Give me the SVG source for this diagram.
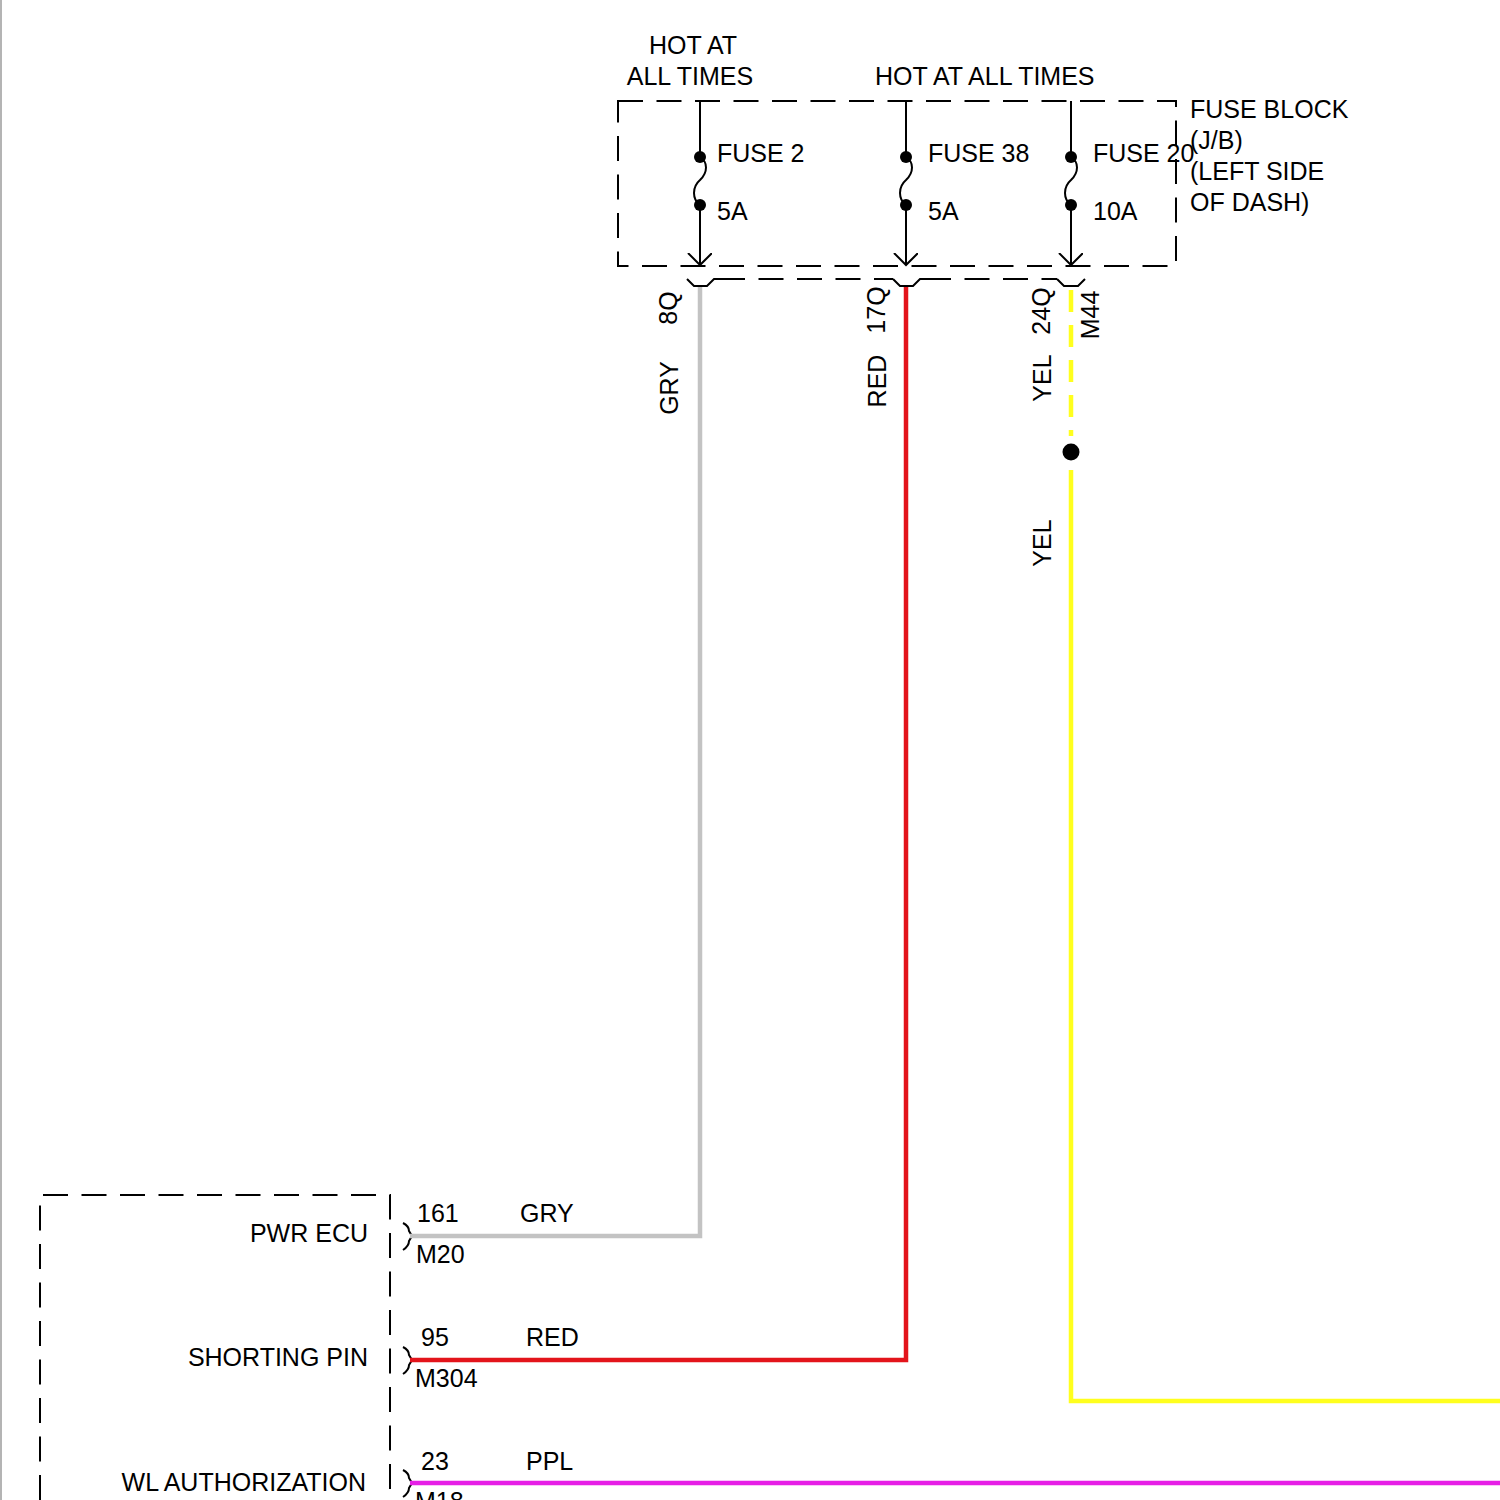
<svg xmlns="http://www.w3.org/2000/svg" width="1500" height="1500" viewBox="0 0 1500 1500">
<style>
text{font-family:"Liberation Sans",Arial,sans-serif;font-size:25px;fill:#000}
.dash{fill:none;stroke:#000;stroke-width:2;stroke-dasharray:25 13.5}
.ln{fill:none;stroke:#000;stroke-width:2}
.w{fill:none;stroke-width:4.5;stroke-linejoin:miter}
.gry{stroke:#c3c3c3}
.red{stroke:#e3141b}
.yel{stroke:#ffff1e}
.ppl{stroke:#e61ee6}
.end{text-anchor:end}
.mid{text-anchor:middle}
</style>
<defs>
<marker id="arr" markerWidth="16" markerHeight="26" refX="12" refY="12" orient="auto" markerUnits="userSpaceOnUse">
<path d="M0,0 L12,12 L0,24" fill="none" stroke="#000" stroke-width="2"/>
</marker>
</defs>
<rect width="1500" height="1500" fill="#fff"/>
<line x1="1" y1="0" x2="1" y2="1500" stroke="#b4b4b4" stroke-width="2"/>

<g id="fuse-block">
<rect class="dash" x="618" y="101" width="558" height="165"/>
<text x="693" y="54" class="mid">HOT AT</text>
<text x="690" y="85" class="mid">ALL TIMES</text>
<text x="875" y="85">HOT AT ALL TIMES</text>
<text x="1190" y="118">FUSE BLOCK</text>
<text x="1190" y="149">(J/B)</text>
<text x="1190" y="180">(LEFT SIDE</text>
<text x="1190" y="211">OF DASH)</text>
<g id="fuse2">
<line class="ln" x1="700" y1="101" x2="700" y2="157"/>
<path class="ln" d="M700,157 C708,162 708,172 700,180 C692,187 692,199 700,205"/>
<line class="ln" x1="700" y1="205" x2="700" y2="265" marker-end="url(#arr)"/>
<circle cx="700" cy="157" r="6"/><circle cx="700" cy="205" r="6"/>
<text x="717" y="162">FUSE 2</text>
<text x="717" y="220">5A</text>
</g>
<g id="fuse38">
<line class="ln" x1="906" y1="101" x2="906" y2="157"/>
<path class="ln" d="M906,157 C914,162 914,172 906,180 C898,187 898,199 906,205"/>
<line class="ln" x1="906" y1="205" x2="906" y2="265" marker-end="url(#arr)"/>
<circle cx="906" cy="157" r="6"/><circle cx="906" cy="205" r="6"/>
<text x="928" y="162">FUSE 38</text>
<text x="928" y="220">5A</text>
</g>
<g id="fuse20">
<line class="ln" x1="1071" y1="101" x2="1071" y2="157"/>
<path class="ln" d="M1071,157 C1079,162 1079,172 1071,180 C1063,187 1063,199 1071,205"/>
<line class="ln" x1="1071" y1="205" x2="1071" y2="265" marker-end="url(#arr)"/>
<circle cx="1071" cy="157" r="6"/><circle cx="1071" cy="205" r="6"/>
<text x="1093" y="162">FUSE 20</text>
<text x="1093" y="220">10A</text>
</g>
</g>

<g id="connector-m44">
<path class="ln" d="M687,279 L694,286 L707,286 L714,279 L720,279"/>
<line class="dash" x1="720" y1="279" x2="893" y2="279"/>
<path class="ln" d="M893,279 L900,286 L913,286 L920,279 L926,279"/>
<line class="dash" x1="926" y1="279" x2="1057" y2="279"/>
<path class="ln" d="M1057,279 L1064,286 L1078,286 L1085,279"/>
<text transform="translate(677,308) rotate(-90)" class="mid">8Q</text>
<text transform="translate(885,310) rotate(-90)" class="mid">17Q</text>
<text transform="translate(1050,311) rotate(-90)" class="mid">24Q</text>
<text transform="translate(1099,315) rotate(-90)" class="mid">M44</text>
</g>

<g id="ecu">
<path class="dash" d="M40,1500 L40,1195 L390,1195 L390,1500"/>
<text x="368" y="1242" class="end">PWR ECU</text>
<text x="368" y="1366" class="end">SHORTING PIN</text>
<text x="366" y="1491" class="end">WL AUTHORIZATION</text>
<path class="ln" d="M403,1223 Q409,1226 409,1231 L412,1236 L409,1241 Q409,1246 403,1250"/>
<path class="ln" d="M403,1347 Q409,1350 409,1355 L412,1360 L409,1365 Q409,1370 403,1374"/>
<path class="ln" d="M403,1470 Q409,1473 409,1478 L412,1483 L409,1488 Q409,1493 403,1497"/>
<text x="417" y="1222">161</text>
<text x="416" y="1263">M20</text>
<text x="421" y="1346">95</text>
<text x="415" y="1387">M304</text>
<text x="421" y="1470">23</text>
<text x="415" y="1510">M18</text>
</g>

<g id="wires">
<path class="w gry" d="M700,287 L700,1236 L410,1236"/>
<path class="w red" d="M906,287 L906,1360 L410,1360"/>
<line class="w yel" x1="1071" y1="290" x2="1071" y2="436" stroke-dasharray="22 13"/>
<circle cx="1071" cy="452" r="8.5"/>
<path class="w yel" d="M1071,470 L1071,1401 L1500,1401"/>
<line class="w ppl" x1="410" y1="1483" x2="1500" y2="1483"/>
<text transform="translate(678,388) rotate(-90)" class="mid">GRY</text>
<text transform="translate(886,381) rotate(-90)" class="mid">RED</text>
<text transform="translate(1051,378) rotate(-90)" class="mid">YEL</text>
<text transform="translate(1051,543) rotate(-90)" class="mid">YEL</text>
<text x="520" y="1222">GRY</text>
<text x="526" y="1346">RED</text>
<text x="526" y="1470">PPL</text>
</g>
</svg>
